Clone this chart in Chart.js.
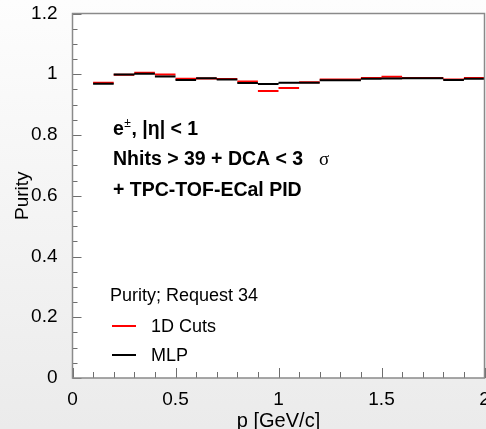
<!DOCTYPE html>
<html>
<head>
<meta charset="utf-8">
<script src="https://cdn.jsdelivr.net/npm/chart.js@4/dist/chart.umd.min.js"></script>
<style>
  html, body { margin: 0; padding: 0; }
  body { width: 486px; height: 429px; overflow: hidden; background: linear-gradient(#fdfdfd, #ebebeb); }
  canvas { display: block; }
</style>
</head>
<body>
<canvas id="purityChart" width="486" height="429"></canvas>
<script>
// Bin lower edges (width 0.1 GeV/c)
const binLow = [0.1, 0.2, 0.3, 0.4, 0.5, 0.6, 0.7, 0.8, 0.9, 1.0,
                1.1, 1.2, 1.3, 1.4, 1.5, 1.6, 1.7, 1.8, 1.9];
const binWidth = 0.1;

// Purity per bin
const cuts1D = [0.972, 0.998, 1.005, 0.999, 0.985, 0.986, 0.984, 0.976, 0.945, 0.955,
                0.974, 0.983, 0.983, 0.988, 0.992, 0.988, 0.988, 0.983, 0.988];
const mlp    = [0.969, 0.999, 1.002, 0.993, 0.981, 0.987, 0.983, 0.971, 0.968, 0.972,
                0.972, 0.980, 0.980, 0.985, 0.986, 0.987, 0.987, 0.981, 0.985];

// Axis ticks
const xTicks = [0, 0.5, 1, 1.5, 2];
const xMinor = [0.1, 0.2, 0.3, 0.4, 0.6, 0.7, 0.8, 0.9, 1.1, 1.2, 1.3, 1.4, 1.6, 1.7, 1.8, 1.9];
const yTicks = [0, 0.2, 0.4, 0.6, 0.8, 1, 1.2];
const yMinor = [0.05, 0.1, 0.15, 0.25, 0.3, 0.35, 0.45, 0.5, 0.55, 0.65, 0.7, 0.75,
                0.85, 0.9, 0.95, 1.05, 1.1, 1.15];

const FONT = "'Liberation Sans', Arial, sans-serif";

// Turn bins into separate horizontal segments
function stepData(vals) {
  const pts = [];
  binLow.forEach((lo, i) => {
    pts.push({ x: lo, y: vals[i] });
    pts.push({ x: lo + binWidth, y: vals[i] });
    pts.push({ x: lo + binWidth, y: null });
  });
  return pts;
}

// White frame background, frame border and inward ticks
const framePlugin = {
  id: "frame",
  beforeDatasetsDraw(chart) {
    const { ctx, chartArea: a } = chart;
    ctx.save();
    ctx.fillStyle = "#ffffff";
    ctx.fillRect(a.left, a.top, a.right - a.left, a.bottom - a.top);
    ctx.restore();
  },
  afterDatasetsDraw(chart) {
    const { ctx, chartArea: a, scales } = chart;
    ctx.save();
    ctx.strokeStyle = "#6e6e6e";
    ctx.lineWidth = 1;
    ctx.beginPath();
    xTicks.forEach(v => {
      const px = Math.round(scales.x.getPixelForValue(v)) + 0.5;
      ctx.moveTo(px, a.bottom); ctx.lineTo(px, a.bottom - 10);
    });
    xMinor.forEach(v => {
      const px = Math.round(scales.x.getPixelForValue(v)) + 0.5;
      ctx.moveTo(px, a.bottom); ctx.lineTo(px, a.bottom - 6);
    });
    yTicks.forEach(v => {
      const py = Math.round(scales.y.getPixelForValue(v)) + 0.5;
      ctx.moveTo(a.left, py); ctx.lineTo(a.left + 9, py);
    });
    yMinor.forEach(v => {
      const py = Math.round(scales.y.getPixelForValue(v)) + 0.5;
      ctx.moveTo(a.left, py); ctx.lineTo(a.left + 5, py);
    });
    ctx.stroke();
    ctx.strokeStyle = "#8a8a8a";
    ctx.lineWidth = 1.5;
    ctx.strokeRect(a.left, a.top, a.right - a.left, a.bottom - a.top);
    ctx.restore();
  }
};

// Labels and legend
const textPlugin = {
  id: "labels",
  afterDraw(chart) {
    const ctx = chart.ctx;
    ctx.save();
    ctx.fillStyle = "#000";
    ctx.textBaseline = "alphabetic";

    const bold = "bold 19.5px " + FONT;
    let x = 113;
    ctx.font = bold;
    ctx.fillText("e", x, 135);
    x += ctx.measureText("e").width;
    ctx.font = "12px " + FONT;
    ctx.fillText("\u00B1", x + 0.5, 127);
    x += ctx.measureText("\u00B1").width + 1;
    ctx.font = bold;
    ctx.fillText(", |\u03B7| < 1", x, 135);

    ctx.fillText("Nhits > 39 + DCA < 3", 113, 165);
    ctx.font = "19px 'Liberation Serif', serif";
    ctx.fillText("\u03C3", 319, 165);

    ctx.font = bold;
    ctx.fillText("+ TPC-TOF-ECal PID", 113, 196);

    // legend
    ctx.font = "18px " + FONT;
    ctx.textBaseline = "middle";
    ctx.fillText("Purity; Request 34", 110, 296);
    ctx.fillText("1D Cuts", 151, 327);
    ctx.fillText("MLP", 151, 356);
    ctx.lineWidth = 2;
    ctx.strokeStyle = "#ff0000";
    ctx.beginPath(); ctx.moveTo(112, 326); ctx.lineTo(136, 326); ctx.stroke();
    ctx.strokeStyle = "#000000";
    ctx.beginPath(); ctx.moveTo(112, 355); ctx.lineTo(136, 355); ctx.stroke();
    ctx.restore();
  }
};

function fmt(v) {
  return String(Math.round(v * 10) / 10);
}

new Chart(document.getElementById("purityChart"), {
  type: "line",
  data: {
    datasets: [
      {
        label: "MLP",
        data: stepData(mlp),
        borderColor: "#000000",
        borderWidth: 2,
        pointRadius: 0,
        spanGaps: false,
        tension: 0
      },
      {
        label: "1D Cuts",
        data: stepData(cuts1D),
        borderColor: "#ff0000",
        borderWidth: 2,
        pointRadius: 0,
        spanGaps: false,
        tension: 0
      }
    ]
  },
  options: {
    responsive: false,
    animation: false,
    events: [],
    layout: { padding: { left: 0, top: 13.5, right: 1.5, bottom: 0 }, autoPadding: false },
    plugins: { legend: { display: false }, tooltip: { enabled: false } },
    scales: {
      x: {
        type: "linear",
        min: 0,
        max: 2,
        afterBuildTicks: s => { s.ticks = xTicks.map(v => ({ value: v })); },
        afterFit: s => { s.height = 51; s.paddingLeft = 0; s.paddingRight = 0; },
        grid: { display: false },
        border: { display: false },
        ticks: {
          callback: v => fmt(v),
          font: { family: FONT, size: 19 },
          color: "#000",
          padding: 2,
          maxRotation: 0,
          autoSkip: false
        },
        title: {
          display: true,
          text: "p [GeV/c]",
          font: { family: FONT, size: 20 },
          color: "#000",
          padding: { top: 0, bottom: -4 }
        }
      },
      y: {
        type: "linear",
        min: 0,
        max: 1.2,
        afterBuildTicks: s => { s.ticks = yTicks.map(v => ({ value: v })); },
        afterFit: s => { s.width = 72.5; s.paddingTop = 0; s.paddingBottom = 0; },
        grid: { display: false },
        border: { display: false },
        ticks: {
          callback: v => fmt(v),
          font: { family: FONT, size: 19 },
          color: "#000",
          padding: 7,
          autoSkip: false
        },
        title: {
          display: true,
          text: "Purity",
          font: { family: FONT, size: 19 },
          color: "#000",
          padding: { top: 11, bottom: 0 }
        }
      }
    }
  },
  plugins: [framePlugin, textPlugin]
});
</script>
</body>
</html>
